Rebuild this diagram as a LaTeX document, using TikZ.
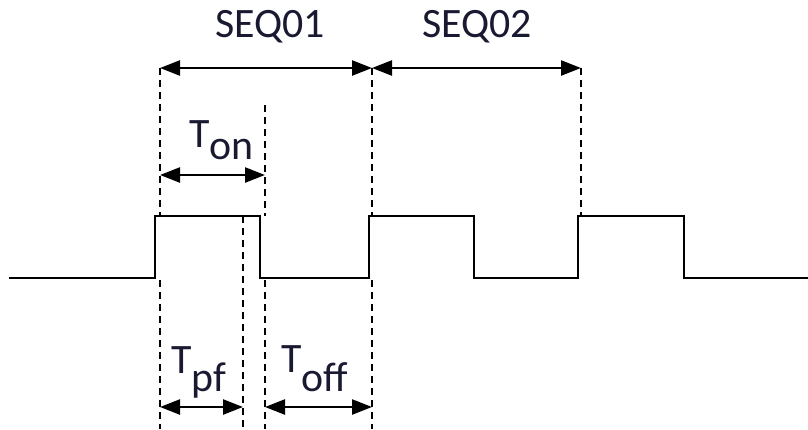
\documentclass[tikz,border=0pt]{standalone}
\usepackage{fontspec}
\setmainfont{Carlito}
\usetikzlibrary{arrows.meta,positioning}
\definecolor{labelink}{RGB}{25,25,50}
\newcommand{\Tsub}[2]{T\lower#1\hbox{#2}}

\begin{document}
\begin{tikzpicture}[x=1bp,y=-1bp,line cap=butt,
 wave/.style={line width=2.8bp,line join=miter},
 guide/.style={line width=2bp,dash pattern=on 7bp off 5bp},
 span/.style={line width=2.4bp,{Triangle[length=20bp,width=15bp]}-{Triangle[length=20bp,width=15bp]}},
 lbl/.style={font=\fontsize{42}{44}\selectfont,text=labelink,inner sep=0pt}]
\useasboundingbox (0,0) rectangle (808,429);
% pulse train
\draw[wave] (9,278) -- (155,278) -- (155,216) -- (260,216) -- (260,278)
 -- (369,278) -- (369,216) -- (474,216) -- (474,278)
 -- (578,278) -- (578,216) -- (684,216) -- (684,278) -- (808,278);
% dashed guides
\foreach \x/\ya/\yb in {160/68/216,160/280/429,265/105/216,265/280/429,
 243/216/429,372/68/216,372/280/429,581/68/216}
 \draw[guide] (\x,\ya) -- (\x,\yb);
% span ends
\coordinate (sA) at (160,68);
\coordinate (sB) at (372,68);
\coordinate (sC) at (581,68);
\coordinate (onA) at (160,175);
\coordinate (onB) at (265,175);
\coordinate (pfA) at (160,407);
\coordinate (pfB) at (243,407);
\coordinate (offA) at (265,407);
\coordinate (offB) at (372,407);
\draw[span] (sA) -- (sB);
\draw[span] (sB) -- (sC);
\draw[span] (onA) -- (onB);
\draw[span] (pfA) -- (pfB);
\draw[span] (offA) -- (offB);
% labels
\node[lbl,anchor=base] (seqone) at (270,37) {SEQ01};
\node[lbl,anchor=base] (seqtwo) at (477,37) {SEQ02};
\node[lbl,anchor=base west] (ton) at (189,147) {\Tsub{12bp}{on}};
\node[lbl,anchor=base west] (tpf) at (171,373) {\Tsub{18bp}{pf}};
\node[lbl,anchor=base west] (toff) at (281,372) {\Tsub{19bp}{off}};
\end{tikzpicture}
\end{document}
